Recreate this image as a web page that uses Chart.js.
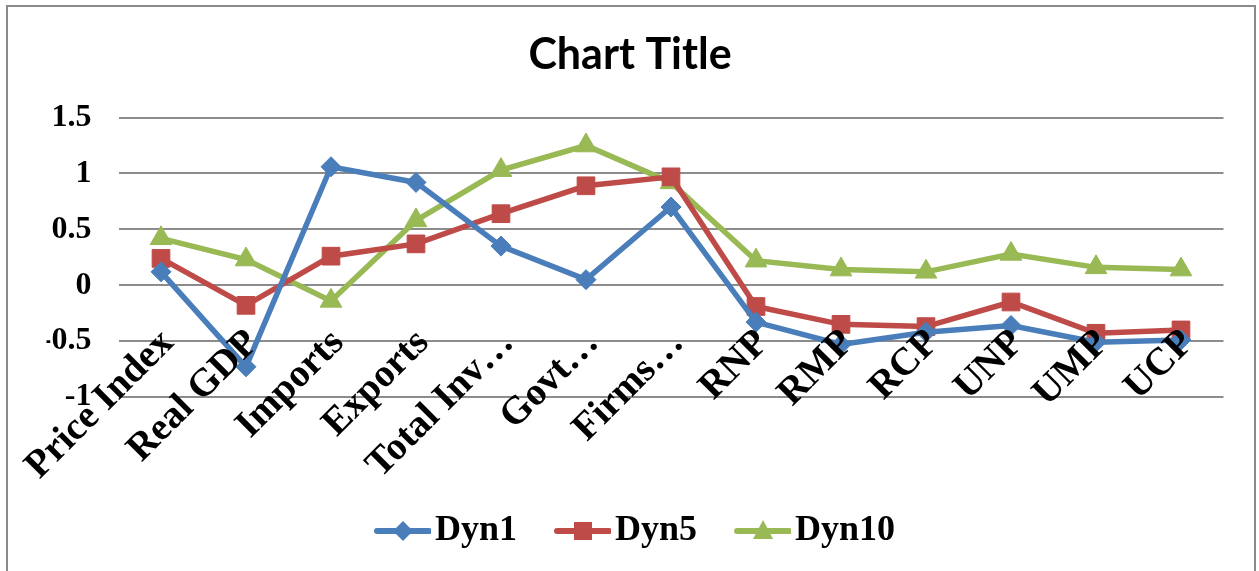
<!DOCTYPE html>
<html>
<head>
<meta charset="utf-8">
<script src="https://cdn.jsdelivr.net/npm/chart.js@4/dist/chart.umd.min.js"></script>
<style>
  html, body { margin: 0; padding: 0; background: #ffffff; }
  #wrap { position: relative; width: 1259px; height: 571px; }
</style>
</head>
<body>
<div id="wrap"><canvas id="chart" width="1259" height="571"></canvas></div>
<script>
// Categories along the x axis
const categories = ['Price Index', 'Real GDP', 'Imports', 'Exports', 'Total Inv\u2026', 'Govt\u2026',
                    'Firms\u2026', 'RNP', 'RMP', 'RCP', 'UNP', 'UMP', 'UCP'];

// Series values
const dyn1  = [0.12, -0.73, 1.06, 0.92, 0.35, 0.05, 0.70, -0.33, -0.53, -0.42, -0.36, -0.51, -0.49];
const dyn5  = [0.24, -0.18, 0.26, 0.37, 0.64, 0.89, 0.97, -0.19, -0.35, -0.37, -0.15, -0.43, -0.40];
const dyn10 = [0.42, 0.23, -0.14, 0.58, 1.03, 1.25, 0.92, 0.22, 0.14, 0.12, 0.28, 0.16, 0.14];

// Value axis range
const yMin = -1;
const yMax = 1.5;
const yStep = 0.5;

const BLUE = '#4a7ebb';
const RED = '#be4b48';
const GREEN = '#98b954';
const SERIF = '"Liberation Serif", "Times New Roman", serif';

// Legend swatch: a short line with the series marker in the middle
function swatch(color, style) {
  const c = document.createElement('canvas');
  c.width = 70; c.height = 28;
  const g = c.getContext('2d');
  g.strokeStyle = color;
  g.lineWidth = 6;
  g.lineCap = 'round';
  g.beginPath(); g.moveTo(16, 14); g.lineTo(68, 14); g.stroke();
  g.fillStyle = color;
  g.beginPath();
  if (style === 'diamond') {
    g.moveTo(42, 4); g.lineTo(52, 14); g.lineTo(42, 24); g.lineTo(32, 14);
  } else if (style === 'square') {
    g.rect(33, 5, 18, 18);
  } else {
    g.moveTo(42, 3); g.lineTo(52, 22); g.lineTo(32, 22);
  }
  g.closePath(); g.fill();
  return c;
}

const swatches = [swatch(BLUE, 'diamond'), swatch(RED, 'square'), swatch(GREEN, 'triangle')];

// Frame around the whole chart
const framePlugin = {
  id: 'frame',
  beforeDraw(chart) {
    const ctx = chart.ctx;
    ctx.save();
    ctx.fillStyle = '#ffffff';
    ctx.fillRect(0, 0, chart.width, chart.height);
    ctx.strokeStyle = '#8a8a8a';
    ctx.lineWidth = 2;
    ctx.strokeRect(7, 6, 1248, 600);
    ctx.restore();
  },
  afterLayout(chart) {
    // centre the title across the full canvas width
    if (chart.titleBlock) {
      chart.titleBlock.left = 0;
      chart.titleBlock.right = chart.width + 1;
    }
  }
};

// Rotated category labels, painted over the plot
const categoryLabels = {
  id: 'categoryLabels',
  afterDatasetsDraw(chart) {
    const ctx = chart.ctx;
    const xs = chart.scales.x;
    ctx.save();
    ctx.font = 'bold 39px ' + SERIF;
    ctx.fillStyle = '#000000';
    ctx.textAlign = 'right';
    ctx.textBaseline = 'middle';
    categories.forEach((label, i) => {
      const x = xs.getPixelForValue(i);
      ctx.save();
      ctx.translate(x + 7, 337);
      ctx.rotate(-Math.PI / 4);
      ctx.fillText(label, 0, 0);
      ctx.restore();
    });
    ctx.restore();
  }
};

const lineSet = (label, data, color, style, radius) => ({
  label,
  data,
  borderColor: color,
  backgroundColor: color,
  borderWidth: 5.5,
  pointStyle: style,
  pointRadius: radius,
  pointHoverRadius: radius,
  pointBackgroundColor: color,
  pointBorderColor: color,
  pointBorderWidth: 1,
  tension: 0
});

new Chart(document.getElementById('chart'), {
  type: 'line',
  data: {
    labels: categories,
    datasets: [
      lineSet('Dyn1', dyn1, BLUE, 'rectRot', 10),
      lineSet('Dyn5', dyn5, RED, 'rect', 12.5),
      lineSet('Dyn10', dyn10, GREEN, 'triangle', 12.5)
    ]
  },
  options: {
    responsive: false,
    animation: false,
    events: [],
    layout: { padding: { left: 46.5, right: 35.5, top: 0, bottom: 12 } },
    plugins: {
      tooltip: { enabled: false },
      title: {
        display: true,
        text: 'Chart Title',
        color: '#000000',
        font: { family: 'Lato, "Liberation Sans", sans-serif', size: 43, weight: 'bold', lineHeight: 1.2 },
        padding: { top: 29, bottom: 37 }
      },
      legend: {
        display: true,
        position: 'bottom',
        labels: {
          color: '#000000',
          font: { family: SERIF, size: 36, weight: 'bold' },
          usePointStyle: true,
          pointStyleWidth: 42,
          padding: 38,
          generateLabels(chart) {
            return chart.data.datasets.map((ds, i) => ({
              text: ds.label,
              fillStyle: ds.borderColor,
              strokeStyle: ds.borderColor,
              lineWidth: 0,
              pointStyle: swatches[i],
              hidden: false,
              datasetIndex: i,
              fontColor: '#000000'
            }));
          }
        }
      }
    },
    scales: {
      x: {
        type: 'category',
        offset: true,
        grid: { display: false, drawTicks: false },
        border: { display: false },
        ticks: { display: false },
        afterFit(scale) { scale.height = 78; }
      },
      y: {
        min: yMin,
        max: yMax,
        ticks: {
          stepSize: yStep,
          color: '#000000',
          padding: 27,
          font: { family: SERIF, size: 32, weight: 'bold' },
          callback: (value) => String(Number(value))
        },
        grid: { color: '#8c8c8c', lineWidth: 2, drawTicks: false },
        border: { display: false },
        afterFit(scale) { scale.width = 72; }
      }
    }
  },
  plugins: [framePlugin, categoryLabels]
});
</script>
</body>
</html>
